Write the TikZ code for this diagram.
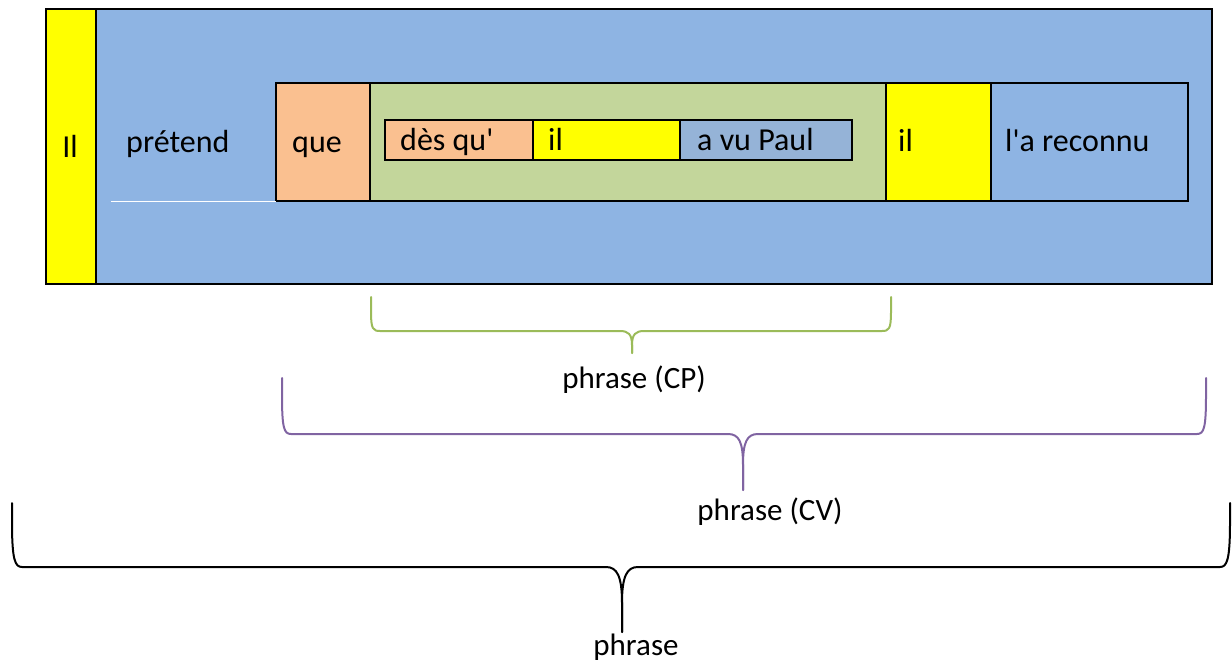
\documentclass[tikz,border=0pt]{standalone}
\usepackage{fontspec}
\setmainfont{Carlito}[Ligatures=TeXOff]
\definecolor{bgblue}{HTML}{8EB4E3}
\definecolor{peach}{HTML}{FAC090}
\definecolor{sage}{HTML}{C3D69B}
\definecolor{ylw}{HTML}{FFFF00}
\definecolor{steel}{HTML}{95B3D7}
\definecolor{bgreen}{HTML}{9BBB59}
\definecolor{bpurple}{HTML}{8064A2}
\tikzset{
  box/.style={draw=black, line width=2.5, inner sep=0, outer sep=0, anchor=north west},
  lbl/.style={anchor=base west, inner sep=0, font=\fontsize{32}{38}\selectfont},
  clbl/.style={anchor=base, inner sep=0, font=\fontsize{31}{37}\selectfont},
  brace/.style={line width=2, line join=round, line cap=round}
}
\begin{document}
\begin{tikzpicture}[x=1pt,y=-1pt]
\useasboundingbox (0,0) rectangle (1232,666);
% outer boxes
\node[box, fill=bgblue, minimum width=1116, minimum height=275] (vp) at (96,9) {};
\node[box, fill=ylw, minimum width=50, minimum height=275] (subj) at (46,9) {};
% inner row
\node[box, fill=peach, minimum width=94, minimum height=118] (que) at (276,83) {};
\node[box, fill=sage, minimum width=516, minimum height=118] (cp) at (370,83) {};
\node[box, fill=ylw, minimum width=105, minimum height=118] (il2) at (886,83) {};
\node[box, fill=bgblue, minimum width=197, minimum height=118] (rec) at (991,83) {};
% innermost row
\node[box, fill=peach, minimum width=148, minimum height=40] (des) at (385,120) {};
\node[box, fill=ylw, minimum width=147, minimum height=40] (il1) at (533,120) {};
\node[box, fill=steel, minimum width=172, minimum height=40] (paul) at (680,120) {};
% white line
\coordinate (wl) at (111,201);
\draw[white, line width=1] (wl) -- (que.south west);
% texts
\node[lbl, anchor=base] (tIl) at (70,158) {Il};
\node[lbl] (tpret) at (126,153) {prétend};
\node[lbl] (tque) at (292,153) {que};
\node[lbl] (tdes) at (400,151) {dès qu'};
\node[lbl] (til1) at (548,151) {il};
\node[lbl] (tpaul) at (697,151) {a vu Paul};
\node[lbl] (til2) at (898,152) {il};
\node[lbl] (trec) at (1005,152) {l'a reconnu};
% labels
\node[clbl] (lcp) at (634,388) {phrase (CP)};
\node[clbl] (lcv) at (770,520) {phrase (CV)};
\node[clbl] (lph) at (636,655) {phrase};
% braces
\coordinate (gL) at (371,297); \coordinate (gR) at (891,297); \coordinate (gT) at (632,353);
\draw[brace, draw=bgreen] (gL) -- (371,312) .. controls (371,329) and (373,331) .. (380,331)
  -- (620,331) .. controls (628,331) and (632,334) .. (632,345) -- (gT);
\draw[brace, draw=bgreen] (gT) -- (632,345) .. controls (632,334) and (636,331) .. (644,331)
  -- (882,331) .. controls (889,331) and (891,329) .. (891,312) -- (gR);
\coordinate (pL) at (282,378); \coordinate (pR) at (1206,378); \coordinate (pT) at (743,490);
\draw[brace, draw=bpurple] (pL) -- (282,395) .. controls (282,428) and (284,434) .. (291,434)
  -- (728,434) .. controls (739,434) and (743,442) .. (743,465) -- (pT);
\draw[brace, draw=bpurple] (pT) -- (743,465) .. controls (743,442) and (747,434) .. (758,434)
  -- (1197,434) .. controls (1204,434) and (1206,428) .. (1206,395) -- (pR);
\coordinate (bL) at (12,503); \coordinate (bR) at (1230,503); \coordinate (bT) at (622,632);
\draw[brace, draw=black] (bL) -- (12,522) .. controls (12,560) and (15,567) .. (22,567)
  -- (606,567) .. controls (617,567) and (622,576) .. (622,603) -- (bT);
\draw[brace, draw=black] (bT) -- (622,603) .. controls (622,576) and (627,567) .. (638,567)
  -- (1220,567) .. controls (1227,567) and (1230,560) .. (1230,522) -- (bR);
\end{tikzpicture}
\end{document}
